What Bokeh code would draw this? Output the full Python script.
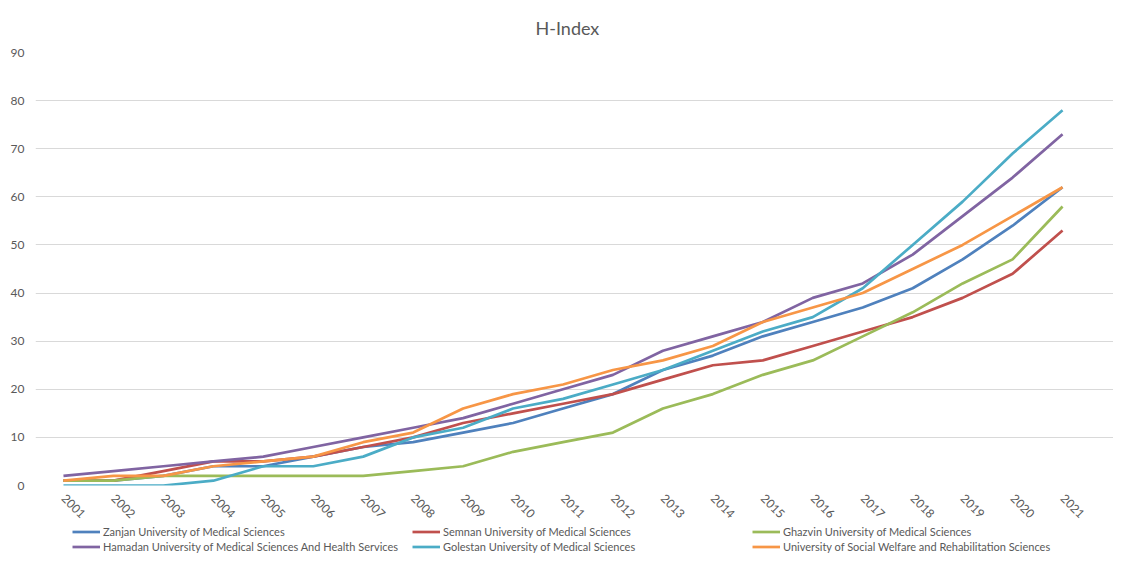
from bokeh.plotting import figure
from bokeh.models import Legend, LegendItem, FixedTicker, Range1d
from bokeh.layouts import column
from bokeh.embed import file_html
from bokeh.resources import INLINE
import math

years = list(range(2001, 2022))

zanjan   = [1, 1, 2, 4, 4, 6, 8, 9, 11, 13, 16, 19, 24, 27, 31, 34, 37, 41, 47, 54, 62]
semnan   = [1, 1, 3, 5, 5, 6, 8, 10, 13, 15, 17, 19, 22, 25, 26, 29, 32, 35, 39, 44, 53]
ghazvin  = [1, 1, 2, 2, 2, 2, 2, 3, 4, 7, 9, 11, 16, 19, 23, 26, 31, 36, 42, 47, 58]
hamadan  = [2, 3, 4, 5, 6, 8, 10, 12, 14, 17, 20, 23, 28, 31, 34, 39, 42, 48, 56, 64, 73]
golestan = [0, 0, 0, 1, 4, 4, 6, 10, 12, 16, 18, 21, 24, 28, 32, 35, 41, 50, 59, 69, 78]
uswr     = [1, 2, 2, 4, 5, 6, 9, 11, 16, 19, 21, 24, 26, 29, 34, 37, 40, 45, 50, 56, 62]

names = [
    "Zanjan University of Medical Sciences",
    "Semnan University of Medical Sciences",
    "Ghazvin University of Medical Sciences",
    "Hamadan University of Medical Sciences And Health Services",
    "Golestan University of Medical Sciences",
    "University of Social Welfare and Rehabilitation Sciences",
]
series = [zanjan, semnan, ghazvin, hamadan, golestan, uswr]
colors = ["#4F81BD", "#C0504D", "#9BBB59", "#8064A2", "#4BACC6", "#F79646"]

y_ticks = list(range(0, 100, 10))

FONT = "Lato"
GRAY = "#595959"

p = figure(width=1113, height=524, output_backend="svg", toolbar_location=None,
           x_range=Range1d(2000.44, 2022.02), y_range=Range1d(0, 90),
           min_border_left=35, min_border_right=0, min_border_top=52, min_border_bottom=39,
           title="H-Index")
p.outline_line_color = None
p.background_fill_color = "white"
p.border_fill_color = "white"

p.title.align = "left"
p.title.offset = 500
p.title.text_font = FONT
p.title.text_font_size = "18px"
p.title.text_font_style = "normal"
p.title.text_color = GRAY
p.title.standoff = 28

# axes
p.xaxis.ticker = FixedTicker(ticks=years)
p.yaxis.ticker = FixedTicker(ticks=y_ticks)
for ax in (p.xaxis[0], p.yaxis[0]):
    ax.axis_line_color = None
    ax.major_tick_line_color = None
    ax.minor_tick_line_color = None
    ax.major_tick_out = 0
    ax.major_tick_in = 0
    ax.major_label_text_color = GRAY
    ax.major_label_text_font = FONT
p.yaxis.major_label_text_font_size = "12px"
p.yaxis.major_label_standoff = 11
p.xaxis.major_label_text_font_size = "12px"
p.xaxis.major_label_orientation = -math.pi / 4
p.xaxis.major_label_standoff = 11

p.xgrid.grid_line_color = None
p.ygrid.grid_line_color = "#D9D9D9"
p.ygrid.grid_line_width = 1

for vals, c in zip(series, colors):
    p.line(years, vals, line_color=c, line_width=2.7)

# legend strip under the chart (its lines lie outside its visible range)
q = figure(width=1113, height=30, output_backend="svg", toolbar_location=None,
           x_axis_type=None, y_axis_type=None,
           x_range=Range1d(-10, -9), y_range=Range1d(-10, -9),
           min_border_left=0, min_border_right=0, min_border_top=0, min_border_bottom=0)
q.outline_line_color = None
q.xgrid.grid_line_color = None
q.ygrid.grid_line_color = None
items = []
for name, vals, c in zip(names, series, colors):
    r = q.line(years, vals, line_color=c, line_width=2.7)
    items.append(LegendItem(label=name, renderers=[r]))

legend = Legend(items=items, orientation="horizontal", ncols=3,
                location=(37, 0), glyph_width=28, glyph_height=15,
                label_height=15, label_width=309, label_standoff=3, spacing=0,
                padding=0, margin=0, border_line_color=None,
                background_fill_alpha=0,
                label_text_font=FONT, label_text_font_size="11px",
                label_text_color=GRAY)
q.add_layout(legend, "center")

layout = column(p, q, spacing=0)
open("out.html", "w").write(file_html(layout, INLINE))
